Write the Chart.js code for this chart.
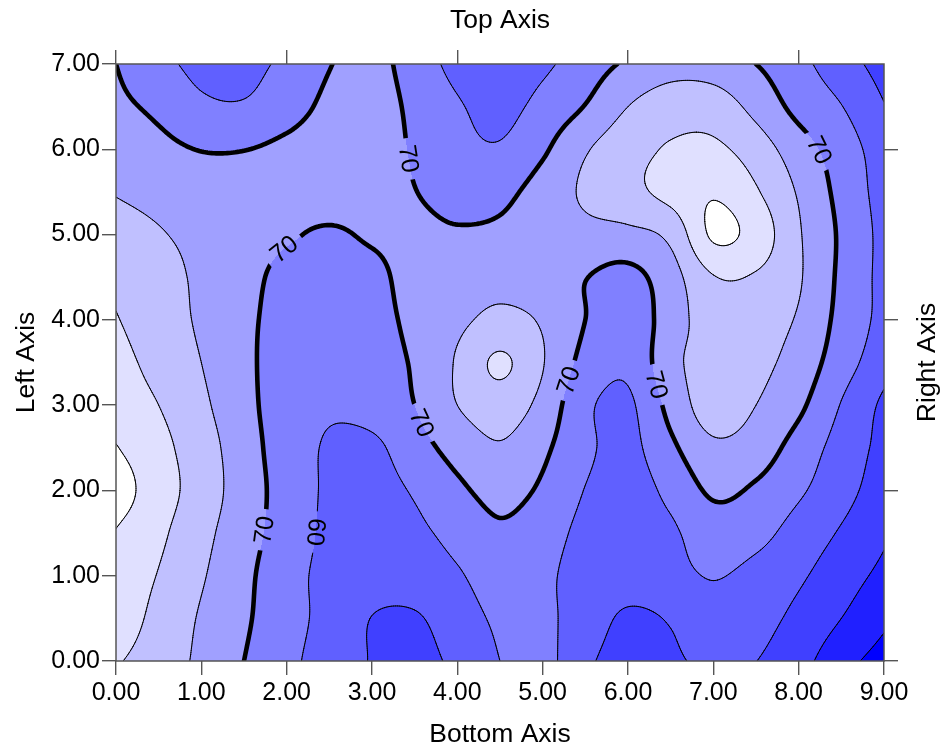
<!DOCTYPE html>
<html>
<head>
<meta charset="utf-8">
<script src="https://cdn.jsdelivr.net/npm/chart.js@4.4.1/dist/chart.umd.min.js"></script>
<style>
  html, body { margin: 0; padding: 0; background: #fff; }
  canvas { display: block; }
</style>
</head>
<body>
<canvas id="contourChart" width="943" height="748"></canvas>
<script>
// grid nodes (step 0.5)
const xNodes = [0, 0.5, 1, 1.5, 2, 2.5, 3, 3.5, 4, 4.5, 5, 5.5, 6, 6.5, 7, 7.5, 8, 8.5, 9];
const yNodes = [0, 0.5, 1, 1.5, 2, 2.5, 3, 3.5, 4, 4.5, 5, 5.5, 6, 6.5, 7];

// z values, one row per y node, left to right
const z_y0_0 = [91, 85, 78, 70, 62.5, 55.5, 49.5, 46.5, 52.5, 60, 63, 52, 46, 48.5, 52, 50.1, 43.5, 33.5, 26];
const z_y0_5 = [96, 87, 79, 71.5, 63.5, 57, 49.8, 49, 55.5, 61.5, 62, 55, 48.5, 50.8, 56.5, 53.5, 47.5, 40, 32];
const z_y1_0 = [97, 89.5, 81, 72.5, 63.5, 57.5, 54.5, 55, 59, 64.5, 62, 56, 54.5, 57, 60.5, 57, 51.5, 44.5, 37.5];
const z_y1_5 = [99.5, 92, 83, 74, 65.5, 58, 55.5, 58, 63, 68.5, 64.5, 57.5, 56, 58.5, 65.5, 63, 56, 49, 41.5];
const z_y2_0 = [105, 94.5, 85.5, 75, 66, 58.5, 56.5, 61, 68, 73, 68.5, 59.7, 56, 62.5, 71.5, 68.5, 61.5, 53.5, 45];
const z_y2_5 = [100.5, 93, 84.5, 74.5, 65, 59, 58, 66, 73.5, 79, 72, 62, 57.5, 68, 78, 75, 66, 56, 47];
const z_y3_0 = [95, 90, 82, 73, 65, 61.5, 64, 70, 80, 85, 77, 62, 58.5, 73, 85, 80, 72, 59.5, 48];
const z_y3_5 = [93, 87, 80, 72, 66.5, 65.5, 67, 71, 81, 91.5, 80.5, 67, 62, 77, 84, 82.5, 76, 64.5, 54];
const z_y4_0 = [90.5, 85, 78.5, 72, 67, 66, 67.5, 72, 78, 82, 79, 70, 64, 75, 85, 84, 79, 67, 57];
const z_y4_5 = [88, 84, 78, 73, 67.5, 67, 68, 73, 76, 77.5, 75, 70.3, 67, 76, 89.5, 89, 81, 68, 57];
const z_y5_0 = [84, 80.8, 77, 74, 71, 69, 71, 72, 71, 72, 75, 77, 77.5, 82.5, 101.5, 96, 81, 68.5, 57];
const z_y5_5 = [79.5, 77, 74, 73, 73, 74, 73.5, 70.2, 67, 67.5, 74, 81.5, 87, 93, 99, 91, 79, 67, 56];
const z_y6_0 = [76, 72.5, 69.7, 69.8, 72, 74.5, 74, 69, 63, 61, 68.5, 79, 86, 91, 92, 85, 74.5, 65, 55];
const z_y6_5 = [72, 68, 62, 61, 66, 72, 74, 67.8, 61, 57, 63.1, 70.4, 80, 85, 85, 77, 67, 60.3, 50.5];
const z_y7_0 = [70, 63.3, 57, 57, 62.3, 69.6, 73, 65.4, 57, 53, 58, 64.9, 71.5, 76, 75, 70, 62.7, 54.4, 46];

const zGrid = [z_y0_0, z_y0_5, z_y1_0, z_y1_5, z_y2_0, z_y2_5, z_y3_0, z_y3_5,
               z_y4_0, z_y4_5, z_y5_0, z_y5_5, z_y6_0, z_y6_5, z_y7_0];

const contourLevels = [30, 40, 50, 60, 70, 80, 90, 100];
const bandColors = ['#0000ff', '#2020ff', '#4040ff', '#6060ff', '#8080ff',
                    '#a0a0ff', '#c0c0ff', '#e0e0ff', '#ffffff'];
const majorLevel = 70;

const xTickValues = [0, 1, 2, 3, 4, 5, 6, 7, 8, 9];
const yTickValues = [0, 1, 2, 3, 4, 5, 6, 7];
const topTickValues = [0, 2, 4, 6, 8];
const rightTickValues = [0, 2, 4, 6];

// where the contour labels sit (snapped onto the line when drawn)
const contourLabels = [
    { x: 1.73, y: 1.54, level: 70, angle: -83 },
    { x: 2.34, y: 1.50, level: 60, angle: 95 },
    { x: 1.98, y: 4.82, level: 70, angle: -50 },
    { x: 3.42, y: 5.89, level: 70, angle: 82 },
    { x: 3.62, y: 2.80, level: 70, angle: 62 },
    { x: 5.36, y: 3.27, level: 70, angle: -72 },
    { x: 6.38, y: 3.26, level: 70, angle: 82 },
    { x: 8.23, y: 5.99, level: 70, angle: 68 },
];

const FONT = '"Liberation Sans", Arial, sans-serif';

// padded grid with linear ghost nodes, for Catmull-Rom interpolation
const ext = (() => {
    const rows = zGrid.map(r => {
        const n = r.length;
        return [2 * r[0] - r[1], ...r, 2 * r[n - 1] - r[n - 2]];
    });
    const m = rows.length;
    const first = rows[0].map((v, k) => 2 * v - rows[1][k]);
    const last = rows[m - 1].map((v, k) => 2 * v - rows[m - 2][k]);
    return [first, ...rows, last];
})();

function cr(p0, p1, p2, p3, t) {
    return 0.5 * (2 * p1 + (-p0 + p2) * t + (2 * p0 - 5 * p1 + 4 * p2 - p3) * t * t +
        (-p0 + 3 * p1 - 3 * p2 + p3) * t * t * t);
}

function zAt(xv, yv) {
    const nx = xNodes.length, ny = yNodes.length;
    const step = xNodes[1] - xNodes[0];
    const gx = (xv - xNodes[0]) / step, gy = (yv - yNodes[0]) / step;
    const i = Math.min(Math.max(Math.floor(gx), 0), nx - 2);
    const j = Math.min(Math.max(Math.floor(gy), 0), ny - 2);
    const t = gx - i, u = gy - j;
    const r = [];
    for (let m = 0; m < 4; m++) {
        const R = ext[j + m];
        r.push(cr(R[i], R[i + 1], R[i + 2], R[i + 3], t));
    }
    return cr(r[0], r[1], r[2], r[3], u);
}

function bandOf(z) {
    let k = 0;
    while (k < contourLevels.length && z >= contourLevels[k]) k++;
    return k;
}

function hexToRgb(h) {
    return [parseInt(h.slice(1, 3), 16), parseInt(h.slice(3, 5), 16), parseInt(h.slice(5, 7), 16)];
}

// marching squares over a fine resampling of the field
let sampleCache = null;
function getSamples() {
    if (sampleCache) return sampleCache;
    const h = 0.025;
    const nx = Math.round((xNodes[xNodes.length - 1] - xNodes[0]) / h) + 1;
    const ny = Math.round((yNodes[yNodes.length - 1] - yNodes[0]) / h) + 1;
    const v = new Float64Array(nx * ny);
    for (let j = 0; j < ny; j++) {
        for (let i = 0; i < nx; i++) {
            v[j * nx + i] = zAt(xNodes[0] + i * h, yNodes[0] + j * h);
        }
    }
    sampleCache = { h, nx, ny, v };
    return sampleCache;
}

function contourSegments(L) {
    const { h, nx, ny, v } = getSamples();
    const segs = [];
    const x0 = xNodes[0], y0 = yNodes[0];
    const cut = (xa, ya, va, xb, yb, vb) => {
        const t = (L - va) / (vb - va);
        return [xa + t * (xb - xa), ya + t * (yb - ya)];
    };
    for (let j = 0; j < ny - 1; j++) {
        for (let i = 0; i < nx - 1; i++) {
            const v0 = v[j * nx + i], v1 = v[j * nx + i + 1];
            const v2 = v[(j + 1) * nx + i + 1], v3 = v[(j + 1) * nx + i];
            const a0 = v0 >= L, a1 = v1 >= L, a2 = v2 >= L, a3 = v3 >= L;
            if (a0 === a1 && a1 === a2 && a2 === a3) continue;
            const xa = x0 + i * h, xb = xa + h, ya = y0 + j * h, yb = ya + h;
            const pts = [];
            if (a0 !== a1) pts.push(cut(xa, ya, v0, xb, ya, v1));
            if (a1 !== a2) pts.push(cut(xb, ya, v1, xb, yb, v2));
            if (a2 !== a3) pts.push(cut(xb, yb, v2, xa, yb, v3));
            if (a3 !== a0) pts.push(cut(xa, yb, v3, xa, ya, v0));
            if (pts.length === 2) {
                segs.push([pts[0], pts[1]]);
            } else if (pts.length === 4) {
                const vc = (v0 + v1 + v2 + v3) / 4;
                if ((vc >= L) === a0) {
                    segs.push([pts[0], pts[1]], [pts[2], pts[3]]);
                } else {
                    segs.push([pts[3], pts[0]], [pts[1], pts[2]]);
                }
            }
        }
    }
    return segs;
}

const contourPlugin = {
    id: 'contourPlot',
    beforeDatasetsDraw(chart) {
        const { ctx, chartArea: a, scales } = chart;
        const xs = scales.x, ys = scales.y;
        const w = Math.round(a.right - a.left), hgt = Math.round(a.bottom - a.top);

        // filled bands
        const off = document.createElement('canvas');
        off.width = w; off.height = hgt;
        const octx = off.getContext('2d');
        const img = octx.createImageData(w, hgt);
        const rgb = bandColors.map(hexToRgb);
        const colX = [];
        for (let px = 0; px < w; px++) colX.push(xs.getValueForPixel(a.left + px + 0.5));
        for (let py = 0; py < hgt; py++) {
            const yv = ys.getValueForPixel(a.top + py + 0.5);
            for (let px = 0; px < w; px++) {
                const c = rgb[bandOf(zAt(colX[px], yv))];
                const k = (py * w + px) * 4;
                img.data[k] = c[0]; img.data[k + 1] = c[1]; img.data[k + 2] = c[2]; img.data[k + 3] = 255;
            }
        }
        octx.putImageData(img, 0, 0);
        ctx.drawImage(off, a.left, a.top);

        // contour lines
        const lines = {};
        contourLevels.forEach(L => {
            lines[L] = contourSegments(L).map(s => s.map(p => [xs.getPixelForValue(p[0]), ys.getPixelForValue(p[1])]));
        });

        // place labels on their line
        ctx.font = '25px ' + FONT;
        const placed = contourLabels.map(lb => {
            const tx = xs.getPixelForValue(lb.x), ty = ys.getPixelForValue(lb.y);
            let best = null, bd = Infinity;
            for (const s of lines[lb.level]) {
                const mx = (s[0][0] + s[1][0]) / 2, my = (s[0][1] + s[1][1]) / 2;
                const d = (mx - tx) ** 2 + (my - ty) ** 2;
                if (d < bd) { bd = d; best = s; }
            }
            let px = tx, py = ty, rad = lb.angle * Math.PI / 180;
            if (best) {
                px = (best[0][0] + best[1][0]) / 2;
                py = (best[0][1] + best[1][1]) / 2;
                let ang = Math.atan2(best[1][1] - best[0][1], best[1][0] - best[0][0]);
                const hint = lb.angle * Math.PI / 180;
                if (Math.cos(ang - hint) < 0) ang += Math.PI;
                rad = ang;
            }
            const text = String(lb.level);
            return { px, py, rad, text, w: ctx.measureText(text).width };
        });

        ctx.save();
        ctx.beginPath();
        ctx.rect(a.left, a.top, a.right - a.left, a.bottom - a.top);
        placed.forEach(lb => {
            const hw = lb.w / 2 + 7, hh = 9;
            const c = Math.cos(lb.rad), s = Math.sin(lb.rad);
            const pts = [[-hw, -hh], [hw, -hh], [hw, hh], [-hw, hh]]
                .map(([u, v]) => [lb.px + u * c - v * s, lb.py + u * s + v * c]);
            ctx.moveTo(pts[0][0], pts[0][1]);
            for (let k = 1; k < 4; k++) ctx.lineTo(pts[k][0], pts[k][1]);
            ctx.closePath();
        });
        ctx.clip('evenodd');
        ctx.strokeStyle = '#000';
        ctx.lineCap = 'round';
        ctx.lineJoin = 'round';
        contourLevels.forEach(L => {
            ctx.beginPath();
            lines[L].forEach(s => { ctx.moveTo(s[0][0], s[0][1]); ctx.lineTo(s[1][0], s[1][1]); });
            ctx.lineWidth = L === majorLevel ? 4.6 : 1;
            ctx.stroke();
        });
        ctx.restore();

        ctx.save();
        ctx.fillStyle = '#000';
        ctx.font = '25px ' + FONT;
        ctx.textAlign = 'center';
        ctx.textBaseline = 'middle';
        placed.forEach(lb => {
            ctx.save();
            ctx.translate(lb.px, lb.py);
            ctx.rotate(lb.rad);
            ctx.fillText(lb.text, 0, 1);
            ctx.restore();
        });
        ctx.restore();
    },
    afterDatasetsDraw(chart) {
        const { ctx, chartArea: a } = chart;
        ctx.save();
        ctx.strokeStyle = '#555';
        ctx.lineWidth = 1.5;
        ctx.strokeRect(a.left, a.top, a.right - a.left, a.bottom - a.top);
        ctx.restore();
    },
    afterDraw(chart) {
        const { ctx, chartArea: a } = chart;
        const cx = (a.left + a.right) / 2, cy = (a.top + a.bottom) / 2;
        ctx.save();
        ctx.fillStyle = '#000';
        ctx.font = '26.5px ' + FONT;
        ctx.textAlign = 'center';
        ctx.textBaseline = 'middle';
        ctx.fillText('Top Axis', cx, 21);
        ctx.fillText('Bottom Axis', cx, 735);
        [['Left Axis', 27], ['Right Axis', 928]].forEach(([t, x]) => {
            ctx.save();
            ctx.translate(x, cy);
            ctx.rotate(-Math.PI / 2);
            ctx.fillText(t, 0, 0);
            ctx.restore();
        });
        ctx.restore();
    }
};

const tickGrid = { display: true, drawOnChartArea: false, drawTicks: true, tickLength: 14, color: '#555', lineWidth: 1.4 };
const tickFont = { family: FONT, size: 25 };

new Chart(document.getElementById('contourChart'), {
    type: 'scatter',
    data: { datasets: [{ data: [], xAxisID: 'x', yAxisID: 'y' }] },
    options: {
        responsive: false,
        animation: false,
        layout: { padding: 0 },
        plugins: { legend: { display: false }, tooltip: { enabled: false } },
        scales: {
            x: {
                type: 'linear', position: 'bottom', min: 0, max: 9,
                afterBuildTicks: s => { s.ticks = xTickValues.map(v => ({ value: v })); },
                afterFit: s => { s.height = 87; },
                ticks: { color: '#000', font: tickFont, padding: 3, autoSkip: false, maxRotation: 0,
                         callback: v => Number(v).toFixed(2) },
                grid: tickGrid, border: { display: false }
            },
            x2: {
                type: 'linear', position: 'top', min: 0, max: 9,
                afterBuildTicks: s => { s.ticks = topTickValues.map(v => ({ value: v })); },
                afterFit: s => { s.height = 64; },
                ticks: { display: false },
                grid: tickGrid, border: { display: false }
            },
            y: {
                type: 'linear', position: 'left', min: 0, max: 7,
                afterBuildTicks: s => { s.ticks = yTickValues.map(v => ({ value: v })); },
                afterFit: s => { s.width = 116; },
                ticks: { color: '#000', font: tickFont, padding: 2, autoSkip: false,
                         callback: v => Number(v).toFixed(2) },
                grid: tickGrid, border: { display: false }
            },
            y2: {
                type: 'linear', position: 'right', min: 0, max: 7,
                afterBuildTicks: s => { s.ticks = rightTickValues.map(v => ({ value: v })); },
                afterFit: s => { s.width = 59; },
                ticks: { display: false },
                grid: tickGrid, border: { display: false }
            }
        }
    },
    plugins: [contourPlugin]
});
</script>
</body>
</html>
